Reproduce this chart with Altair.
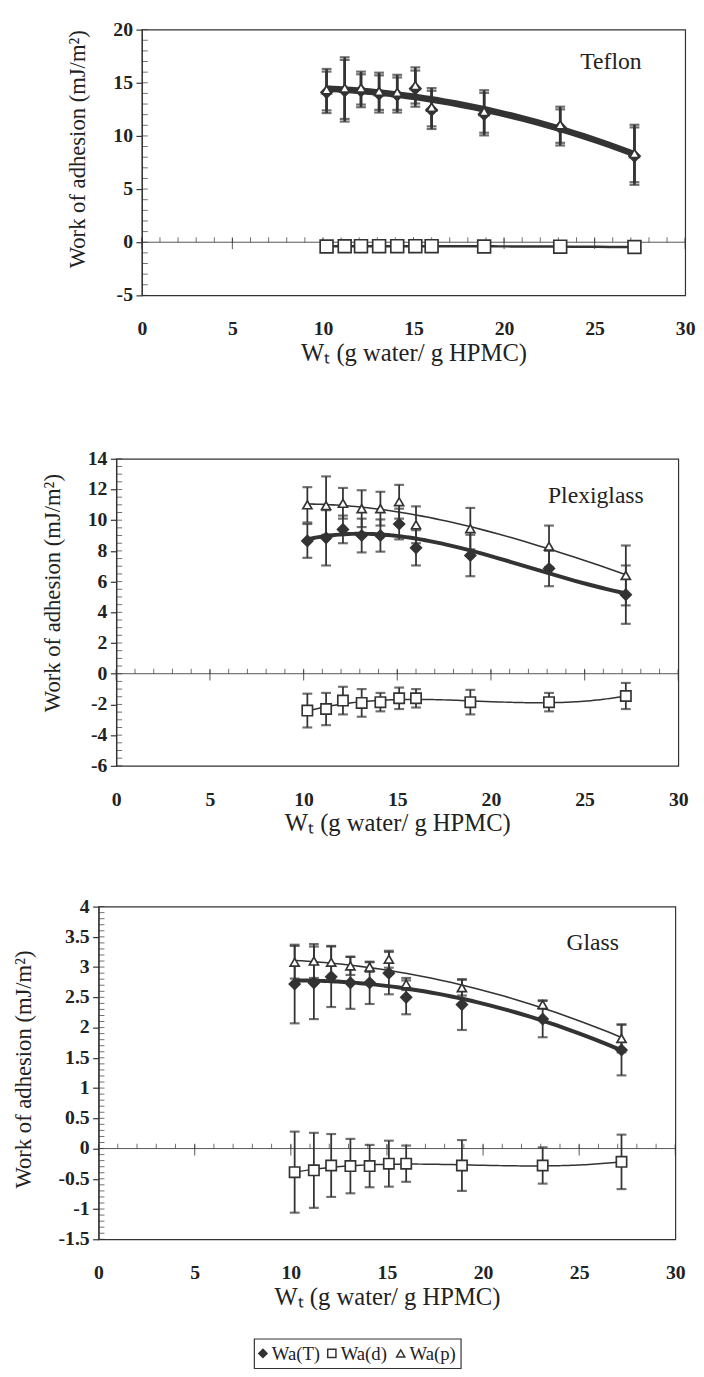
import altair as alt
import pandas as pd

# ---------------- data ----------------
WT = [10.2, 11.2, 12.1, 13.1, 14.1, 15.1, 16.0, 18.9, 23.1, 27.2]
SERIES = ["Wa(T)", "Wa(d)", "Wa(p)"]

TEFLON_T = [14.1, 14.25, 14.25, 13.95, 13.85, 14.45, 12.45, 12.05, 10.8, 8.1]
TEFLON_T_SD = [1.95, 2.9, 1.55, 1.75, 1.65, 1.7, 1.8, 2.0, 1.7, 2.7]
TEFLON_D = [-0.4, -0.38, -0.37, -0.37, -0.37, -0.37, -0.37, -0.4, -0.42, -0.45]
TEFLON_D_SD = [0.1, 0.1, 0.1, 0.1, 0.1, 0.1, 0.1, 0.1, 0.1, 0.1]
TEFLON_P = [14.35, 14.5, 14.5, 14.2, 14.1, 14.75, 12.7, 12.3, 11.05, 8.35]
TEFLON_P_SD = [1.95, 2.9, 1.55, 1.75, 1.65, 1.7, 1.8, 2.0, 1.7, 2.7]

PLEXI_T = [8.65, 8.85, 9.4, 9.0, 9.0, 9.75, 8.2, 7.7, 6.85, 5.15]
PLEXI_T_SD = [1.1, 1.8, 0.9, 1.1, 1.05, 1.0, 1.15, 1.35, 1.15, 1.9]
PLEXI_D = [-2.4, -2.3, -1.75, -1.9, -1.85, -1.6, -1.6, -1.85, -1.85, -1.45]
PLEXI_D_SD = [1.1, 1.05, 0.9, 0.9, 0.6, 0.7, 0.6, 0.8, 0.6, 0.85]
PLEXI_P = [11.0, 10.95, 11.1, 10.75, 10.75, 11.2, 9.7, 9.45, 8.3, 6.4]
PLEXI_P_SD = [1.15, 1.9, 1.0, 1.2, 1.1, 1.1, 1.2, 1.35, 1.35, 1.95]

GLASS_T = [2.72, 2.74, 2.84, 2.74, 2.74, 2.9, 2.5, 2.38, 2.14, 1.63]
GLASS_T_SD = [0.65, 0.6, 0.5, 0.43, 0.35, 0.35, 0.28, 0.42, 0.3, 0.42]
GLASS_D = [-0.39, -0.36, -0.28, -0.29, -0.29, -0.25, -0.25, -0.28, -0.28, -0.22]
GLASS_D_SD = [0.67, 0.62, 0.52, 0.45, 0.35, 0.38, 0.3, 0.42, 0.3, 0.45]
GLASS_P = [3.08, 3.1, 3.08, 3.02, 3.0, 3.13, 2.72, 2.66, 2.38, 1.82]
GLASS_P_SD = [0.27, 0.28, 0.27, 0.15, 0.08, 0.14, 0.1, 0.13, 0.07, 0.23]

X_LABELS = [0, 5, 10, 15, 20, 25, 30]
X_MINOR = list(range(0, 31))
TEFLON_Y_LABELS = [-5, 0, 5, 10, 15, 20]
TEFLON_Y_MINOR = list(range(-5, 21))
PLEXI_Y_LABELS = [-6, -4, -2, 0, 2, 4, 6, 8, 10, 12, 14]
PLEXI_Y_MINOR = [v / 2 for v in range(-12, 29)]
GLASS_Y_LABELS = [-1.5, -1, -0.5, 0, 0.5, 1, 1.5, 2, 2.5, 3, 3.5, 4]
GLASS_Y_MINOR = [v / 10 for v in range(-15, 41)]

FONT = "Liberation Serif"
INK = "#333333"
TXT = "#222222"
SHAPES = ["diamond", "square", "triangle-up"]
FILLS = [INK, "white", "white"]


def spacer(w):
    return (
        alt.Chart(pd.DataFrame({"v": [0]}))
        .mark_point(opacity=0, size=1)
        .encode(x=alt.value(w / 2), y=alt.value(5))
        .properties(width=w, height=10, view=alt.ViewBackground(stroke="transparent"))
    )


def panel(label, T, Tsd, D, Dsd, P, Psd, ydom, ylabels, yminor, w, h,
          label_xy, title_y, title_pad, orders, widths, bar_w, sizes):
    rows = []
    for s, vals, sds in zip(SERIES, (T, D, P), (Tsd, Dsd, Psd)):
        for x, v, e in zip(WT, vals, sds):
            rows.append({"wt": x, "series": s, "wa": v, "lo": v - e, "hi": v + e})
    df = pd.DataFrame(rows)

    xs = alt.Scale(domain=[0, 30], nice=False, zero=False)
    ys = alt.Scale(domain=ydom, nice=False, zero=False)
    xa = alt.Axis(values=X_LABELS, title="Wₜ (g water/ g HPMC)", domain=False,
                  ticks=False, grid=False, labelPadding=24, titlePadding=2,
                  labelOverlap=False, labelFlush=False, titleFontSize=25)
    ya = alt.Axis(values=ylabels, title="Work of adhesion (mJ/m²)", grid=False,
                  tickSize=6, labels=False, titleY=title_y, titlePadding=title_pad)

    def X(f):
        return alt.X(f, type="quantitative", scale=xs, axis=xa)

    def Y(f):
        return alt.Y(f, type="quantitative", scale=ys, axis=ya)

    base = alt.Chart(df)
    layers = []
    for s, o, sw in zip(SERIES, orders, widths):
        layers.append(
            base.transform_filter(alt.datum.series == s)
            .transform_regression("wt", "wa", method="poly", order=o)
            .mark_line(color=INK, strokeWidth=sw)
            .encode(x=X("wt"), y=Y("wa"))
        )
    zero = pd.DataFrame({"z": [0]})
    layers.append(alt.Chart(zero).mark_rule(color="#555555", strokeWidth=1)
                  .encode(y=Y("z")))
    layers.append(
        alt.Chart(pd.DataFrame({"t": X_MINOR, "z": [0] * len(X_MINOR)}))
        .mark_tick(orient="vertical", color=INK, size=5, thickness=1, yOffset=-2.5)
        .encode(x=X("t"), y=Y("z"))
    )
    layers.append(
        alt.Chart(pd.DataFrame({"t": X_LABELS, "z": [0] * len(X_LABELS)}))
        .mark_tick(orient="vertical", color=INK, size=11, thickness=1.2, yOffset=1.5)
        .encode(x=X("t"), y=Y("z"))
    )
    layers.append(
        alt.Chart(pd.DataFrame({"t": yminor}))
        .mark_tick(orient="horizontal", color=INK, size=6, thickness=1)
        .encode(y=Y("t"), x=alt.value(3))
    )
    layers.append(
        alt.Chart(pd.DataFrame({"t": ylabels, "lab": [f"{v:g}" for v in ylabels]}))
        .mark_text(align="right", baseline="middle", font=FONT, fontSize=20,
                   fontWeight="bold", color=TXT, dx=-9)
        .encode(y=Y("t"), x=alt.value(0), text="lab:N")
    )
    for s in SERIES:
        b = base.transform_filter(alt.datum.series == s)
        layers.append(b.mark_rule(color=INK, strokeWidth=bar_w).encode(x=X("wt"), y=Y("lo"), y2="hi"))
        for f in ("lo", "hi"):
            layers.append(b.mark_tick(orient="horizontal", color=INK, size=10, thickness=2.2)
                          .encode(x=X("wt"), y=Y(f)))
    for s, shp, fl, sz in zip(SERIES, SHAPES, FILLS, sizes):
        layers.append(
            base.transform_filter(alt.datum.series == s)
            .mark_point(shape=shp, filled=True, fill=fl, stroke=INK, strokeWidth=1.7,
                        size=sz, opacity=1)
            .encode(x=X("wt"), y=Y("wa"))
        )
    layers.append(
        alt.Chart(pd.DataFrame({"lx": [label_xy[0]], "ly": [label_xy[1]]}))
        .mark_text(text=label, font=FONT, fontSize=24, color=TXT)
        .encode(x=X("lx"), y=Y("ly"))
    )
    return alt.layer(*layers).properties(width=w, height=h)


def legend_box(w, h):
    ldf = pd.DataFrame({"series": SERIES})
    xs = alt.X("series:N", scale=alt.Scale(domain=SERIES), axis=None)
    pts = (
        alt.Chart(ldf)
        .mark_point(filled=True, stroke=INK, strokeWidth=1.5, size=70, opacity=1, xOffset=-26)
        .encode(
            x=xs,
            y=alt.value(h / 2),
            shape=alt.Shape("series:N", scale=alt.Scale(domain=SERIES, range=SHAPES), legend=None),
            fill=alt.Fill("series:N", scale=alt.Scale(domain=SERIES, range=FILLS), legend=None),
        )
    )
    txt = (
        alt.Chart(ldf)
        .mark_text(align="left", baseline="middle", font=FONT, fontSize=19, color=TXT, dx=-17, dy=1)
        .encode(x=xs, y=alt.value(h / 2), text="series:N")
    )
    return alt.layer(pts, txt).properties(width=w, height=h)


p1 = panel("Teflon", TEFLON_T, TEFLON_T_SD, TEFLON_D, TEFLON_D_SD, TEFLON_P, TEFLON_P_SD,
           [-5, 20], TEFLON_Y_LABELS, TEFLON_Y_MINOR, 552, 270,
           (25.9, 16.9), 121, 47, (2, 2, 2), (4, 2.5, 4), 2.6, (130, 170, 90))
p2 = panel("Plexiglass", PLEXI_T, PLEXI_T_SD, PLEXI_D, PLEXI_D_SD, PLEXI_P, PLEXI_P_SD,
           [-6, 14], PLEXI_Y_LABELS, PLEXI_Y_MINOR, 571, 312,
           (25.6, 11.6), 136, 46, (3, 3, 3), (4, 1.5, 1.6), 1.8, (120, 110, 85))
p3 = panel("Glass", GLASS_T, GLASS_T_SD, GLASS_D, GLASS_D_SD, GLASS_P, GLASS_P_SD,
           [-1.5, 4], GLASS_Y_LABELS, GLASS_Y_MINOR, 586, 338,
           (25.7, 3.4), 165, 58, (2, 3, 2), (4, 1.5, 1.6), 1.8, (120, 110, 85))

row1 = alt.hconcat(spacer(56), p1, spacing=0)
row2 = alt.hconcat(spacer(31), p2, spacing=0)
row3 = alt.hconcat(spacer(1), p3, spacing=0)
row4 = alt.hconcat(spacer(247), legend_box(210, 30), spacing=0)
top = alt.vconcat(row1, row2, spacing=83)
bottom = alt.vconcat(row3, row4, spacing=28)
chart = (
    alt.vconcat(top, bottom, spacing=60)
    .properties(padding=0)
    .configure(background="white")
    .configure_view(stroke=INK, strokeWidth=1.2)
    .configure_axis(
        labelFont=FONT, labelFontSize=20, labelFontWeight="bold", labelColor=TXT,
        titleFont=FONT, titleFontSize=23, titleFontWeight="normal", titleColor=TXT,
        domainColor=INK, domainWidth=1.2, tickColor=INK, tickWidth=1.2,
    )
)

chart.save("out.html", embed_options={"renderer": "svg", "actions": False})
